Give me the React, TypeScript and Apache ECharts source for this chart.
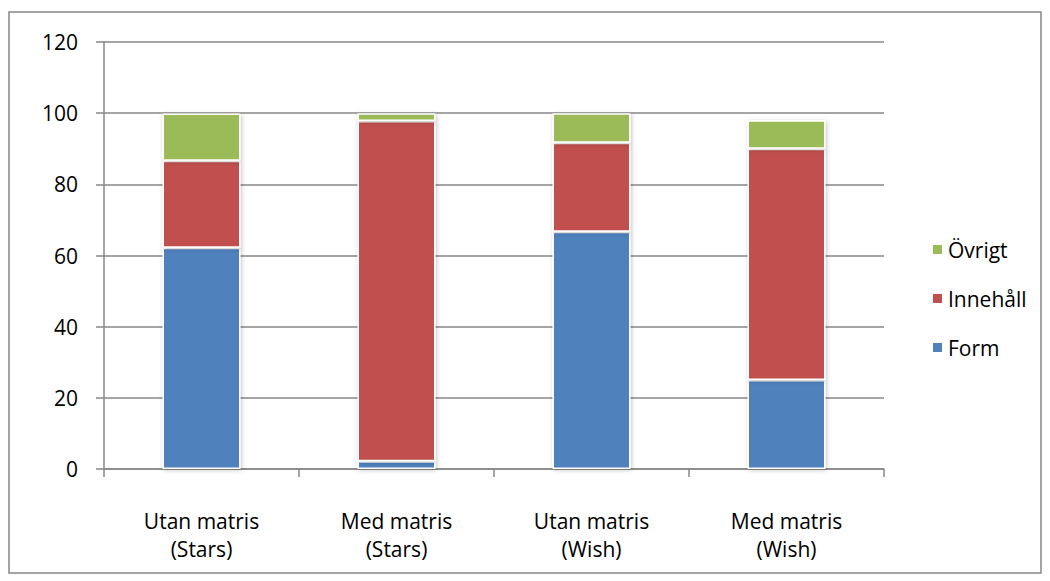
import React, { useEffect, useRef } from "react";
import * as echarts from "echarts";

const categories = ["Utan matris\n(Stars)", "Med matris\n(Stars)", "Utan matris\n(Wish)", "Med matris\n(Wish)"];
const formValues = [62.2, 2.2, 66.7, 25];
const innehallValues = [24.4, 95.6, 25, 65];
const ovrigtValues = [13.3, 2.2, 8.3, 8];
const yTicks = { min: 0, max: 120, interval: 20 };

const FONT = "'Open Sans', 'Liberation Sans', sans-serif";
const GRAY = "#878787";

export default function App() {
  const ref = useRef<HTMLDivElement>(null);
  useEffect(() => {
    if (!ref.current) return;
    const chart = echarts.init(ref.current, undefined, { renderer: "svg" });
    const barStyle = (color: string) => ({
      color,
      borderColor: "#ffffff",
      borderWidth: 1.5,
      shadowColor: "rgba(0,0,0,0.25)",
      shadowBlur: 4,
      shadowOffsetX: 1,
      shadowOffsetY: 1,
    });
    chart.setOption({
      animation: false,
      backgroundColor: "#ffffff",
      textStyle: { fontFamily: FONT },
      graphic: [
        {
          type: "rect",
          shape: { x: 9, y: 12, width: 1032, height: 561 },
          style: { fill: "none", stroke: GRAY, lineWidth: 1.5 },
          silent: true,
          z: -1,
        },
      ],
      grid: { left: 104, right: 166, top: 42, bottom: 112 },
      legend: {
        orient: "vertical",
        left: 926,
        top: 233,
        itemWidth: 11,
        itemHeight: 11,
        itemGap: 26,
        icon: "rect",
        data: ["Övrigt", "Innehåll", "Form"],
        textStyle: { fontFamily: FONT, fontSize: 21, color: "#000", lineHeight: 23 },
      },
      xAxis: {
        type: "category",
        data: categories,
        axisLine: { show: true, lineStyle: { color: GRAY, width: 1.5 } },
        axisTick: { show: true, alignWithLabel: false, length: 8, lineStyle: { color: GRAY, width: 1.5 } },
        axisLabel: { fontFamily: FONT, fontSize: 21, color: "#000", lineHeight: 28, margin: 38 },
      },
      yAxis: {
        type: "value",
        min: yTicks.min,
        max: yTicks.max,
        interval: yTicks.interval,
        axisLine: { show: true, lineStyle: { color: GRAY, width: 1.5 } },
        axisTick: { show: true, length: 8, lineStyle: { color: GRAY, width: 1.5 } },
        splitLine: { show: true, lineStyle: { color: GRAY, width: 1.5 } },
        axisLabel: { fontFamily: FONT, fontSize: 21, color: "#000", margin: 26 },
      },
      series: [
        { name: "Form", type: "bar", stack: "s", barWidth: "40%", data: formValues, itemStyle: barStyle("#4f81bd") },
        { name: "Innehåll", type: "bar", stack: "s", barWidth: "40%", data: innehallValues, itemStyle: barStyle("#c0504d") },
        { name: "Övrigt", type: "bar", stack: "s", barWidth: "40%", data: ovrigtValues, itemStyle: barStyle("#9bbb59") },
      ],
    });
    return () => chart.dispose();
  }, []);
  return (
    <div
      ref={ref}
      style={{ position: "absolute", left: 0, top: 0, width: 1050, height: 581 }}
    />
  );
}
